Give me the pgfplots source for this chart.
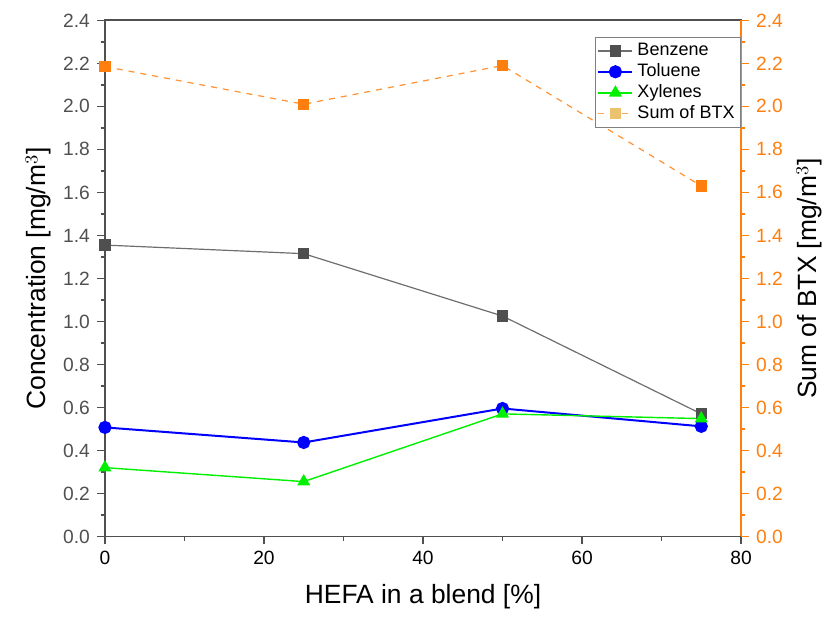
\documentclass[border=0pt]{standalone}
\usepackage{fontspec}
\setmainfont{Liberation Sans}
\usepackage{pgfplots}
\pgfplotsset{compat=1.18}
\definecolor{bzmark}{HTML}{4F4F4F}
\definecolor{bzline}{HTML}{6E6E6E}
\definecolor{tol}{HTML}{0000FF}
\definecolor{xyl}{HTML}{00F000}
\definecolor{btx}{HTML}{FF7F0E}
\definecolor{btxleg}{HTML}{EBC26E}
\definecolor{axgray}{HTML}{505050}

\begin{document}
\begin{tikzpicture}
\pgfplotsset{
  common/.style={
    scale only axis,
    width=318pt, height=258pt,
    xmin=0, xmax=80,
    ymin=0, ymax=2.4,
    ytick distance=0.2,
    tick align=outside,
    major tick length=4pt,
    minor tick length=2.2pt,
    /pgf/number format/assume math mode=true,
    yticklabel style={/pgf/number format/fixed, /pgf/number format/fixed zerofill, /pgf/number format/precision=1},
    tick label style={font=\fontsize{9.6}{11}\selectfont},
    label style={font=\fontsize{13.2}{15}\selectfont},
  },
}
\begin{axis}[
  common,
  xtick={0,20,40,60,80},
  minor x tick num=1,
  minor y tick num=1,
  xtick pos=bottom,
  ytick pos=left,
  axis line style={axgray, line width=0.9pt},
  every tick/.style={axgray, line width=0.7pt},
  yticklabel style={text=axgray},
  xlabel={HEFA in a blend [\%]},
  ylabel={Concentration [mg/m$^3$]},
  xlabel style={yshift=-3pt},
  ylabel style={yshift=-1pt},
]
% Benzene
\addplot[bzline, line width=0.6pt, mark=square*, mark size=2.5pt, mark options={fill=bzmark, draw=bzmark}]
  coordinates {(0,1.355) (25,1.315) (50,1.025) (75,0.57)};
% Toluene
\addplot[tol, line width=1pt, mark=*, mark size=2.8pt, mark options={fill=tol, draw=tol}]
  coordinates {(0,0.507) (25,0.437) (50,0.595) (75,0.512)};
% Xylenes
\addplot[xyl, line width=0.7pt, mark=triangle*, mark size=3.1pt, mark options={fill=xyl, draw=xyl}]
  coordinates {(0,0.32) (25,0.255) (50,0.57) (75,0.548)};
\end{axis}

\begin{axis}[
  common,
  axis x line=none,
  axis y line*=right,
  minor y tick num=1,
  axis line style={btx, line width=0.9pt},
  every tick/.style={btx, line width=0.7pt},
  yticklabel style={text=btx},
  ylabel={Sum of BTX [mg/m$^3$]},
  legend style={at={(rel axis cs:1,0.968)}, anchor=north east, draw=gray, line width=0.5pt,
    font=\fontsize{9}{10.5}\selectfont, inner xsep=1pt, inner ysep=1pt, row sep=-1.5pt},
  legend cell align=left,
]
\addlegendimage{bzline, line width=0.6pt, mark=square*, mark size=2.5pt, mark options={fill=bzmark, draw=bzmark}}
\addlegendentry{Benzene}
\addlegendimage{tol, line width=1pt, mark=*, mark size=2.8pt, mark options={fill=tol, draw=tol}}
\addlegendentry{Toluene}
\addlegendimage{xyl, line width=0.7pt, mark=triangle*, mark size=3.1pt, mark options={fill=xyl, draw=xyl}}
\addlegendentry{Xylenes}
\addlegendimage{btx!70, dashed, line width=0.6pt, mark=square*, mark size=2.5pt, mark options={solid, fill=btxleg, draw=btxleg}}
\addlegendentry{Sum of BTX}
% Sum of BTX
\addplot[btx!85, dashed, line width=0.6pt, mark=square*, mark size=2.5pt, mark options={solid, fill=btx, draw=btx}, forget plot]
  coordinates {(0,2.185) (25,2.01) (50,2.19) (75,1.63)};
\end{axis}
% white margin like the reference
\path ([shift={(-9.5pt,3.5pt)}]current bounding box.north west)
  rectangle ([shift={(0.5pt,-1pt)}]current bounding box.south east);
\end{tikzpicture}
\end{document}
